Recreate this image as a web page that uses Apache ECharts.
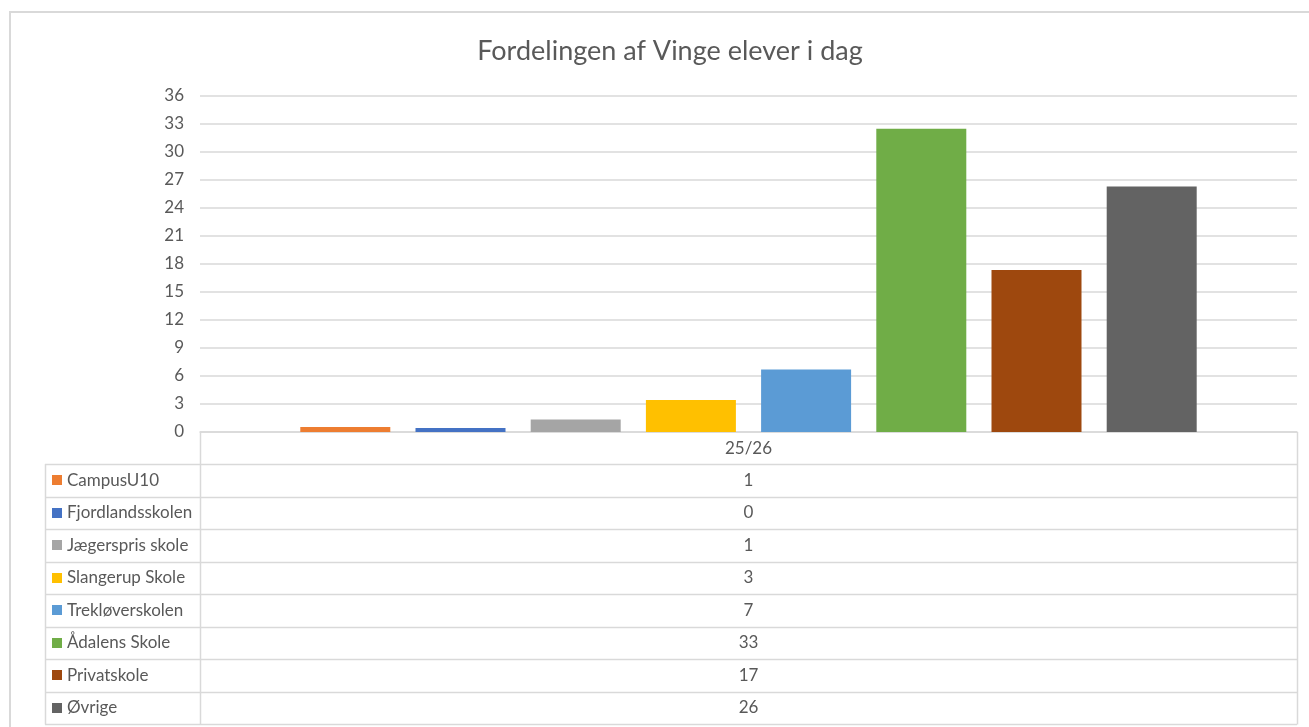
<!DOCTYPE html>
<html><head><meta charset="utf-8">
<script src="https://cdn.jsdelivr.net/npm/echarts@6/dist/echarts.min.js"></script>
<style>html,body{margin:0;padding:0;background:#fff}#c{width:1309px;height:727px}</style>
</head><body><div id="c"></div>
<script>
const chartTitle = 'Fordelingen af Vinge elever i dag';
const categories = ['25/26'];
const seriesNames = ['CampusU10', 'Fjordlandsskolen', 'Jægerspris skole', 'Slangerup Skole', 'Trekløverskolen', 'Ådalens Skole', 'Privatskole', 'Øvrige'];
const seriesValues = [0.54, 0.43, 1.35, 3.43, 6.7, 32.5, 17.36, 26.3];
const tableLabels = ['1', '0', '1', '3', '7', '33', '17', '26'];
const seriesColors = ['#ED7D31', '#4472C4', '#A5A5A5', '#FFC000', '#5B9BD5', '#70AD47', '#9E480E', '#636363'];
const yMin = 0, yMax = 36, yStep = 3;

const FONT = 'Lato, "Open Sans", sans-serif';
const TXT = '#595959';
const LINE = '#d9d9d9';

// layout
const W = 1309, H = 727;
const plotL = 200, plotR = 1297, plotT = 96, plotB = 432;
const tabL = 45, rowTop = 464, rowH = 32.5;

const chart = echarts.init(document.getElementById('c'), null, {renderer: 'canvas'});

const series = seriesNames.map((n, i) => ({
  name: n,
  type: 'bar',
  data: [seriesValues[i]],
  barWidth: 90,
  barGap: '28%',
  itemStyle: {color: seriesColors[i]}
}));

const graphics = [];
// outer border
graphics.push({type: 'rect', shape: {x: 10, y: 12, width: W + 20, height: H + 20},
  style: {fill: null, stroke: LINE, lineWidth: 2}, silent: true, z: -1});
const nRows = seriesNames.length;
const tabB = rowTop + nRows * rowH;
// horizontal lines
for (let i = 0; i <= nRows; i++) {
  const y = Math.round(rowTop + i * rowH) + 0.5;
  graphics.push({type: 'line', shape: {x1: tabL, y1: y, x2: plotR, y2: y},
    style: {stroke: LINE, lineWidth: 1.5}, silent: true});
}
// vertical lines
[[tabL, rowTop], [plotL, plotB], [plotR, plotB]].forEach(([x, y0]) => {
  graphics.push({type: 'line', shape: {x1: x + 0.5, y1: y0, x2: x + 0.5, y2: Math.round(tabB) + 0.5},
    style: {stroke: LINE, lineWidth: 1.5}, silent: true});
});
const midX = (plotL + plotR) / 2;
// header
graphics.push({type: 'text', x: midX, y: (plotB + rowTop) / 2 + 1,
  style: {text: categories[0], fill: TXT, font: '17px ' + FONT, textAlign: 'center', textVerticalAlign: 'middle'}, silent: true});
seriesNames.forEach((n, i) => {
  const cy = rowTop + i * rowH + rowH / 2;
  graphics.push({type: 'rect', shape: {x: 52, y: Math.round(cy - 5), width: 10, height: 10},
    style: {fill: seriesColors[i]}, silent: true});
  graphics.push({type: 'text', x: 67, y: cy,
    style: {text: n, fill: TXT, font: '17px ' + FONT, textAlign: 'left', textVerticalAlign: 'middle'}, silent: true});
  graphics.push({type: 'text', x: midX, y: cy,
    style: {text: tableLabels[i], fill: TXT, font: '17px ' + FONT, textAlign: 'center', textVerticalAlign: 'middle'}, silent: true});
});

chart.setOption({
  animation: false,
  color: seriesColors,
  title: {
    text: chartTitle, left: 665, top: 33, textAlign: 'center',
    textStyle: {color: TXT, fontFamily: FONT, fontSize: 27, fontWeight: 'normal'}
  },
  legend: {show: false},
  grid: {left: plotL, right: W - plotR, top: plotT, bottom: H - plotB, containLabel: false},
  xAxis: {
    type: 'category', data: categories,
    axisLine: {lineStyle: {color: LINE, width: 1.5}},
    axisTick: {show: false},
    axisLabel: {show: false}
  },
  yAxis: {
    type: 'value', min: yMin, max: yMax, interval: yStep,
    axisLine: {show: false}, axisTick: {show: false},
    axisLabel: {color: TXT, fontFamily: FONT, fontSize: 17, margin: 16},
    splitLine: {lineStyle: {color: LINE, width: 1.5}}
  },
  series: series,
  graphic: graphics
});
</script>
</body></html>
